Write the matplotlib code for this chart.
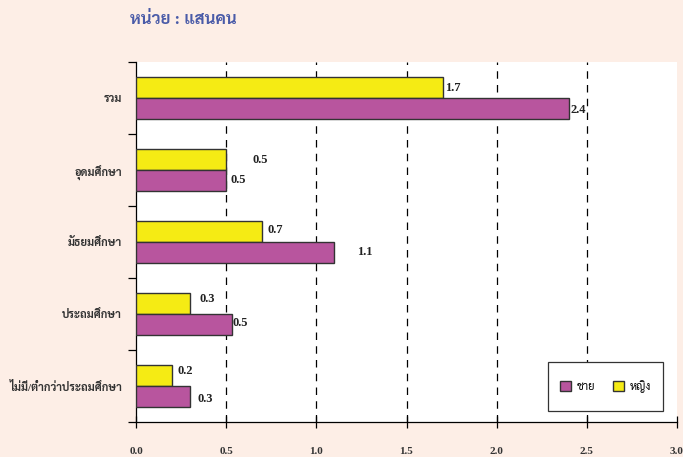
import matplotlib
matplotlib.use('Agg')
import matplotlib.pyplot as plt
import numpy as np
from matplotlib.patches import Patch, Rectangle

# ฟอนต์: ตัวเลขแบบ Times, ภาษาไทยใช้ Sarabun
plt.rcParams['font.family'] = ['Liberation Serif', 'Sarabun', 'DejaVu Sans']

# ข้อมูล (หน่วย: แสนคน)
categories = ['รวม', 'อุดมศึกษา', 'มัธยมศึกษา', 'ประถมศึกษา', 'ไม่มี/ต่ำกว่าประถมศึกษา']
female = [1.7, 0.5, 0.7, 0.3, 0.2]
male = [2.4, 0.5, 1.1, 0.53, 0.3]
female_text = ['1.7', '0.5', '0.7', '0.3', '0.2']
male_text = ['2.4', '0.5', '1.1', '0.5', '0.3']
xticks = [0.0, 0.5, 1.0, 1.5, 2.0, 2.5, 3.0]

bg = '#fdeee6'
c_male = '#b8559e'
c_female = '#f5eb14'

fig = plt.figure(figsize=(6.83, 4.57), dpi=100, facecolor=bg)
ax = fig.add_axes([136/683, 1 - 422/457, 541/683, 360/457])
ax.set_facecolor('white')

y = np.arange(len(categories))
h = 0.29
ax.barh(y - h/2, female, height=h, color=c_female, edgecolor='#333333', linewidth=1, zorder=3)
ax.barh(y + h/2, male, height=h, color=c_male, edgecolor='#333333', linewidth=1, zorder=3)

# ระยะป้ายตัวเลขจากปลายแท่ง (จุด)
dx_f = [2, 19, 4, 7, 4]
dx_m = [1, 3, 16, 1, 5]
dy_f = [0, 0, 1, 3, 3]
dy_m = [-1, 0, 0, 1, -2]
for i in range(len(categories)):
    ax.annotate(female_text[i], (female[i], y[i] - h/2), xytext=(dx_f[i], dy_f[i]),
                textcoords='offset points', va='center', ha='left',
                fontsize=9, fontweight='bold', color='#222222', zorder=4)
    ax.annotate(male_text[i], (male[i], y[i] + h/2), xytext=(dx_m[i], dy_m[i]),
                textcoords='offset points', va='center', ha='left',
                fontsize=9, fontweight='bold', color='#222222', zorder=4)

ax.set_xlim(0, 3.0)
ax.set_ylim(4.5, -0.5)

# เส้นกริดแนวตั้งแบบเส้นประ
for gx in [0.5, 1.0, 1.5, 2.0, 2.5]:
    ax.axvline(gx, color='black', linestyle=(0, (6, 5)), linewidth=0.9, zorder=1)

ax.set_xticks(xticks)
ax.set_xticklabels([f'{v:.1f}' for v in xticks], fontsize=8, fontweight='bold', color='#333333')
ax.tick_params(axis='x', direction='inout', length=8, width=0.9, pad=14)

ax.set_yticks(y)
ax.set_yticklabels(categories, fontsize=8, fontweight='bold', color='#333333')
ax.tick_params(axis='y', length=0, pad=10)
ax.set_yticks(np.arange(-0.5, 5.0, 1.0), minor=True)
ax.tick_params(axis='y', which='minor', length=6, width=0.9, direction='out')

for s in ['top', 'right']:
    ax.spines[s].set_visible(False)
ax.spines['left'].set_linewidth(0.9)
ax.spines['bottom'].set_linewidth(0.9)

# กรอบคำอธิบายสัญลักษณ์
bx, by, bw, bh = 412/541, 11/360, 115/541, 49/360
ax.add_patch(Rectangle((bx, by), bw, bh, transform=ax.transAxes, facecolor='white',
                       edgecolor='#333333', linewidth=0.9, zorder=5))
handles = [Patch(facecolor=c_male, edgecolor='#333333', label='ชาย'),
           Patch(facecolor=c_female, edgecolor='#333333', label='หญิง')]
leg = ax.legend(handles=handles, ncol=2, loc='center',
                bbox_to_anchor=(bx + bw/2, by + bh/2), frameon=False,
                fontsize=8, handlelength=1.0, handleheight=1.0,
                handletextpad=0.5, columnspacing=1.6, borderpad=0, borderaxespad=0)
leg.set_zorder(6)

fig.text(130/683, 1 - 20/457, 'หน่วย : แสนคน', fontsize=12, fontweight='bold',
         color='#4a5ba8', va='center', ha='left')

fig.savefig('out.png', dpi=100, facecolor=bg)
